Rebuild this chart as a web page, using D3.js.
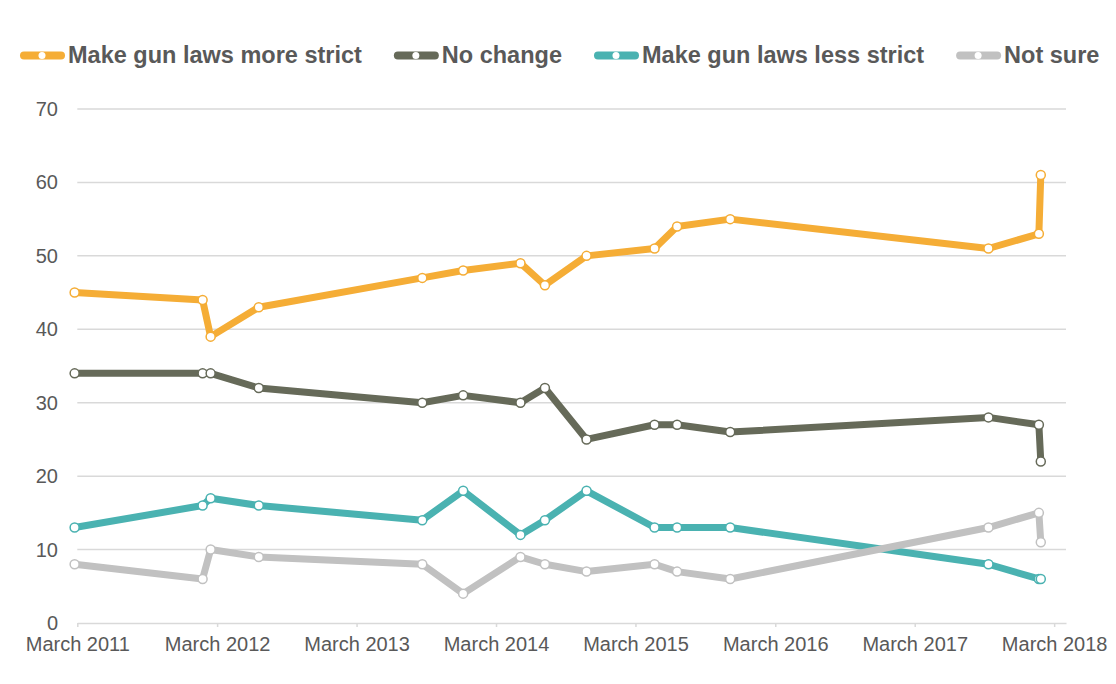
<!DOCTYPE html>
<html>
<head>
<meta charset="utf-8">
<script src="https://cdn.jsdelivr.net/npm/d3@7"></script>
<style>
  body { margin: 0; background: #fff; }
  text { font-family: "Liberation Sans", Helvetica, Arial, sans-serif; fill: #595959; }
</style>
</head>
<body>
<div id="chart"></div>
<script>
// poll dates
const dates = [
  "2011-02-22", "2012-01-23", "2012-02-13", "2012-06-18", "2013-08-20",
  "2013-12-05", "2014-05-04", "2014-07-07", "2014-10-24", "2015-04-20",
  "2015-06-18", "2015-11-04", "2017-09-10", "2018-01-20", "2018-01-25"
];
const moreStrict = [45, 44, 39, 43, 47, 48, 49, 46, 50, 51, 54, 55, 51, 53, 61];
const noChange   = [34, 34, 34, 32, 30, 31, 30, 32, 25, 27, 27, 26, 28, 27, 22];
const lessStrict = [13, 16, 17, 16, 14, 18, 12, 14, 18, 13, 13, 13, 8, 6, 6];
const notSure    = [8, 6, 10, 9, 8, 4, 9, 8, 7, 8, 7, 6, 13, 15, 11];

const seriesNames = ["Make gun laws more strict", "No change", "Make gun laws less strict", "Not sure"];
const seriesColors = ["#F5AD36", "#666A59", "#4AB2B1", "#C1C1C1"];
const yTicks = [0, 10, 20, 30, 40, 50, 60, 70];
const xTickYears = [2011, 2012, 2013, 2014, 2015, 2016, 2017, 2018];

const width = 1116, height = 684;
const parse = d3.timeParse("%Y-%m-%d");

const series = [moreStrict, noChange, lessStrict, notSure].map((vals, i) => ({
  name: seriesNames[i],
  color: seriesColors[i],
  values: vals.map((v, j) => ({ date: parse(dates[j]), value: v }))
}));

const svg = d3.select("#chart").append("svg")
  .attr("width", width)
  .attr("height", height);

svg.append("rect").attr("width", width).attr("height", height).attr("fill", "#fff");

// x: March 2011 .. April 2018, y: 0..70
const x = d3.scaleTime()
  .domain([new Date(2011, 2, 1), new Date(2018, 3, 1)])
  .range([77.3, 1066]);
const y = d3.scaleLinear().domain([0, 70]).range([623, 109]);

// gridlines
svg.append("g")
  .selectAll("line")
  .data(yTicks.filter(d => d > 0))
  .join("line")
  .attr("x1", x.range()[0])
  .attr("x2", x.range()[1])
  .attr("y1", d => y(d))
  .attr("y2", d => y(d))
  .attr("stroke", "#D9D9D9")
  .attr("stroke-width", 1.5);

// y labels
svg.append("g")
  .selectAll("text")
  .data(yTicks)
  .join("text")
  .attr("x", 58)
  .attr("y", d => y(d))
  .attr("dy", "0.35em")
  .attr("text-anchor", "end")
  .attr("font-size", 20)
  .text(d => d);

// x axis
const xAxis = d3.axisBottom(x)
  .tickValues(xTickYears.map(yr => new Date(yr, 2, 1)))
  .tickFormat(d3.timeFormat("March %Y"))
  .tickSizeInner(4)
  .tickSizeOuter(0)
  .tickPadding(10);

const gx = svg.append("g")
  .attr("transform", "translate(0," + y(0) + ")")
  .call(xAxis);
gx.attr("font-family", null);
gx.select(".domain").attr("stroke", "#D9D9D9").attr("stroke-width", 1.5);
gx.selectAll(".tick line").attr("stroke", "#D9D9D9").attr("stroke-width", 1.5);
gx.selectAll(".tick text")
  .attr("font-size", 20)
  .attr("fill", "#595959");

// lines
const line = d3.line()
  .x(d => x(d.date))
  .y(d => y(d.value));

const sg = svg.append("g")
  .selectAll("g")
  .data(series)
  .join("g");

sg.append("path")
  .attr("d", d => line(d.values))
  .attr("fill", "none")
  .attr("stroke", d => d.color)
  .attr("stroke-width", 7)
  .attr("stroke-linejoin", "round")
  .attr("stroke-linecap", "round");

sg.selectAll("circle")
  .data(d => d.values.map(v => ({ ...v, color: d.color })))
  .join("circle")
  .attr("cx", d => x(d.date))
  .attr("cy", d => y(d.value))
  .attr("r", 4.5)
  .attr("fill", "#fff")
  .attr("stroke", d => d.color)
  .attr("stroke-width", 1.5);

// legend on top
let lx = 20;
series.forEach(s => {
  const g = svg.append("g").attr("transform", "translate(" + lx + ",0)");
  g.append("line")
    .attr("x1", 4).attr("x2", 41)
    .attr("y1", 55.5).attr("y2", 55.5)
    .attr("stroke", s.color)
    .attr("stroke-width", 8)
    .attr("stroke-linecap", "round");
  g.append("circle")
    .attr("cx", 22).attr("cy", 55.5).attr("r", 3.5)
    .attr("fill", "#fff");
  const t = g.append("text")
    .attr("x", 48)
    .attr("y", 63)
    .attr("font-size", 23.5)
    .attr("font-weight", "bold")
    .text(s.name);
  lx += 48 + t.node().getComputedTextLength() + 32;
});
</script>
</body>
</html>
